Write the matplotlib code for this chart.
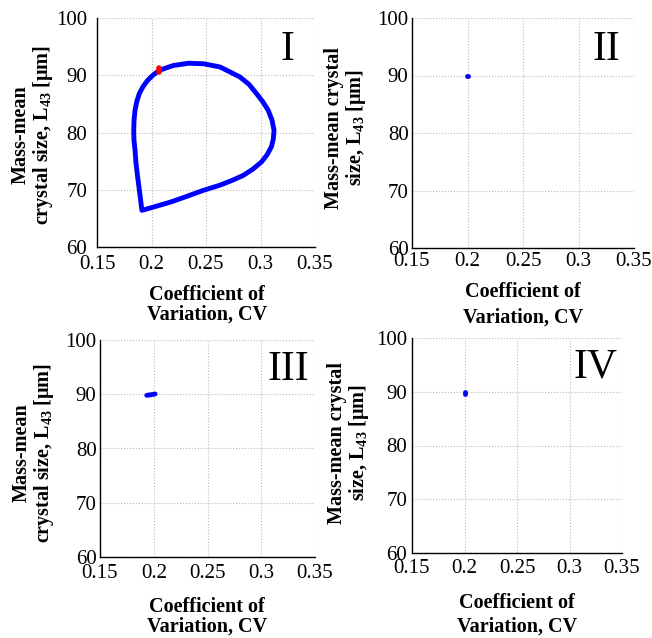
import matplotlib
matplotlib.use("Agg")
import matplotlib.pyplot as plt

# ---- data ----
cv_loop = [0.2072, 0.220, 0.234, 0.248, 0.2628, 0.2811, 0.2895, 0.2963, 0.302, 0.307, 0.3105, 0.3124,
           0.3118, 0.310, 0.306, 0.3009, 0.293, 0.2841, 0.2735, 0.2628, 0.2476, 0.2325, 0.2175, 0.204,
           0.1912, 0.1897, 0.1873, 0.1858, 0.1849, 0.1839, 0.1837, 0.1840, 0.1849, 0.1865, 0.1888,
           0.1922, 0.1964, 0.2015, 0.2072]
L_loop = [90.87, 91.7, 92.1, 92.0, 91.45, 89.7, 88.4, 86.8, 85.4, 83.9, 82.2, 80.4,
          78.9, 77.5, 76.1, 74.85, 73.6, 72.5, 71.6, 70.8, 69.9, 68.85, 67.85, 67.1,
          66.4, 68.7, 72.2, 74.6, 76.9, 78.7, 80.4, 82.2, 83.9, 85.4, 86.8,
          88.0, 89.1, 90.05, 90.87]
cv_start = [0.2072, 0.2072]
L_start = [90.5, 91.3]

cv2 = [0.1992, 0.2005]
L2 = [90.0, 90.0]

cv3 = [0.1935, 0.197, 0.2012]
L3 = [89.8, 89.9, 90.05]

cv4 = [0.2, 0.2]
L4 = [89.6, 90.0]

panel_names = ["I", "II", "III", "IV"]
xticks = [0.15, 0.2, 0.25, 0.3, 0.35]
xticklabels = ["0.15", "0.2", "0.25", "0.3", "0.35"]
yticks = [60, 70, 80, 90, 100]

W, H = 652, 638
fig = plt.figure(figsize=(W / 100, H / 100), dpi=100)
plt.rcParams["font.family"] = ["Liberation Serif", "DejaVu Serif"]
plt.rcParams["mathtext.fontset"] = "custom"
plt.rcParams["mathtext.rm"] = "Liberation Serif"
plt.rcParams["mathtext.bf"] = "Liberation Serif:bold"


def box(l, t, r, b):
    return [l / W, 1 - b / H, (r - l) / W, (b - t) / H]


def px(x, y):
    return x / W, 1 - y / H


# axes boxes (pixels) l, t, r, b
boxes = [(97, 18, 315, 247), (412, 18, 634, 248), (100, 340, 315, 557), (412, 338, 622, 553)]
xpads = [5.5, 3, 5, 4]
ypads = [7, 2.5, 2.5, 3.5]

ylab_a = "Mass-mean\ncrystal size, L$_{\\mathbf{43}}$ [μm]"
ylab_b = "Mass-mean crystal\nsize, L$_{\\mathbf{43}}$ [μm]"
ylabels = [ylab_a, ylab_b, ylab_a, ylab_b]
ylab_pos = [(33, 135), (346, 128), (34, 453), (349, 443)]
xlab_pos = [(207, 305, 1.0), (523, 305, 1.35), (207, 617, 1.0), (517, 615, 1.25)]

series = [(cv_loop, L_loop), (cv2, L2), (cv3, L3), (cv4, L4)]
blue = "#0000ff"

axes = []
for i in range(4):
    ax = fig.add_axes(box(*boxes[i]))
    axes.append(ax)
    ax.set_xlim(0.15, 0.35)
    ax.set_ylim(60, 100)
    ax.set_xticks(xticks)
    ax.set_xticklabels(xticklabels)
    ax.set_yticks(yticks)
    ax.grid(True, color="#b8b8b8", linestyle=":", linewidth=0.8)
    ax.set_axisbelow(True)
    for s in ["top", "right"]:
        ax.spines[s].set_visible(False)
    for s in ["left", "bottom"]:
        ax.spines[s].set_linewidth(1.0)
        ax.spines[s].set_color("black")
    ax.tick_params(axis="x", length=0, pad=xpads[i], labelsize=15)
    ax.tick_params(axis="y", length=0, pad=ypads[i], labelsize=15)
    x, y = series[i]
    ax.plot(x, y, color=blue, lw=3.5, solid_capstyle="round", solid_joinstyle="round", clip_on=False)
    ax.text(0.325, 94.5, panel_names[i], fontsize=30, ha="center", va="center")
    fx, fy = px(*ylab_pos[i])
    fig.text(fx, fy, ylabels[i], rotation=90, ha="center", va="center",
             fontsize=14.5, fontweight="bold", linespacing=1.0, multialignment="center")
    lx, ly, ls = xlab_pos[i]
    fx, fy = px(lx, ly)
    fig.text(fx, fy, "Coefficient of\nVariation, CV", ha="center", va="center",
             fontsize=14.5, fontweight="bold", linespacing=ls, multialignment="center")

axes[0].plot(cv_start, L_start, color="red", lw=4.0, solid_capstyle="round")

fig.savefig("out.png", dpi=100)
